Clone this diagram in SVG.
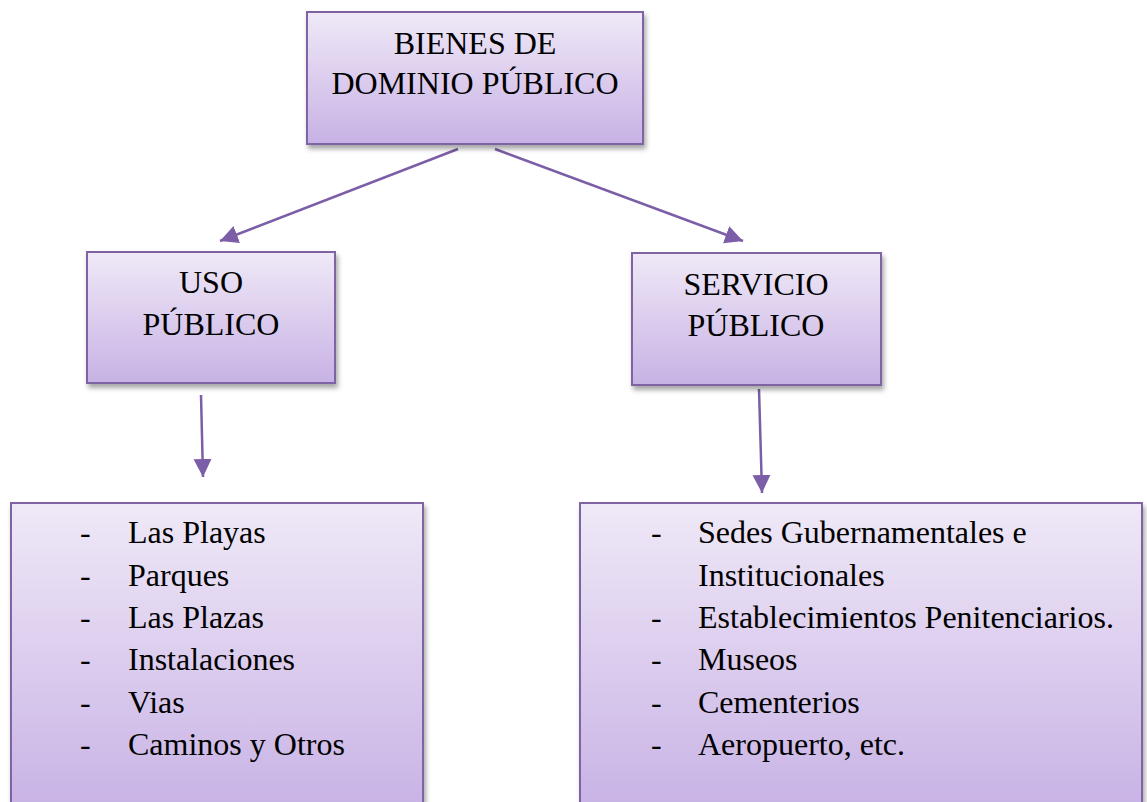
<svg xmlns="http://www.w3.org/2000/svg" width="1147" height="802" viewBox="0 0 1147 802">
<style>
.box{fill:url(#g);stroke:#8064a2;stroke-width:2;filter:url(#sh)}
.t{font-family:"Liberation Serif","Times New Roman",serif;font-size:32px;fill:#000}
.c{text-anchor:middle}
.conn{stroke:#7b5ea7;stroke-width:2.5;fill:none;marker-end:url(#ah)}
</style>
<defs>
<linearGradient id="g" x1="0" y1="0" x2="0" y2="1">
<stop offset="0" stop-color="#efe9f7"/>
<stop offset="0.5" stop-color="#dccdee"/>
<stop offset="1" stop-color="#c7b2e5"/>
</linearGradient>
<filter id="sh" x="-5%" y="-5%" width="115%" height="120%">
<feDropShadow dx="2" dy="4" stdDeviation="2.5" flood-color="#000" flood-opacity="0.35"/>
</filter>
<marker id="ah" markerUnits="userSpaceOnUse" markerWidth="20" markerHeight="20" viewBox="0 0 20 20" refX="18" refY="10" orient="auto">
<path d="M0,1 L18,10 L0,19 z" fill="#7b5ea7"/>
</marker>
</defs>
<g id="connectors">
<line class="conn" x1="458" y1="149" x2="220" y2="241"/>
<line class="conn" x1="495" y1="149" x2="743" y2="241"/>
<line class="conn" x1="201" y1="395" x2="203" y2="477"/>
<line class="conn" x1="759" y1="389" x2="762" y2="493"/>
</g>
<g id="bienes">
<rect class="box" x="307" y="12" width="336" height="132"/>
<text class="t c" x="475" y="54">BIENES DE</text>
<text class="t c" x="475" y="94">DOMINIO PÚBLICO</text>
</g>
<g id="uso">
<rect class="box" x="87" y="252" width="248" height="131"/>
<text class="t c" x="211" y="293">USO</text>
<text class="t c" x="211" y="335">PÚBLICO</text>
</g>
<g id="servicio">
<rect class="box" x="632" y="253" width="249" height="132"/>
<text class="t c" x="756" y="295">SERVICIO</text>
<text class="t c" x="756" y="336">PÚBLICO</text>
</g>
<g id="lista-uso">
<rect class="box" x="11" y="503" width="412" height="310"/>
<g class="t">
<text x="80" y="543">-</text><text x="128" y="543">Las Playas</text>
<text x="80" y="586">-</text><text x="128" y="586">Parques</text>
<text x="80" y="628">-</text><text x="128" y="628">Las Plazas</text>
<text x="80" y="670">-</text><text x="128" y="670">Instalaciones</text>
<text x="80" y="713">-</text><text x="128" y="713">Vias</text>
<text x="80" y="755">-</text><text x="128" y="755">Caminos y Otros</text>
</g>
</g>
<g id="lista-servicio">
<rect class="box" x="580" y="503" width="562" height="310"/>
<g class="t">
<text x="651" y="543">-</text><text x="698" y="543">Sedes Gubernamentales e</text>
<text x="698" y="586">Institucionales</text>
<text x="651" y="628">-</text><text x="698" y="628">Establecimientos Penitenciarios.</text>
<text x="651" y="670">-</text><text x="698" y="670">Museos</text>
<text x="651" y="713">-</text><text x="698" y="713">Cementerios</text>
<text x="651" y="755">-</text><text x="698" y="755">Aeropuerto, etc.</text>
</g>
</g>
</svg>
